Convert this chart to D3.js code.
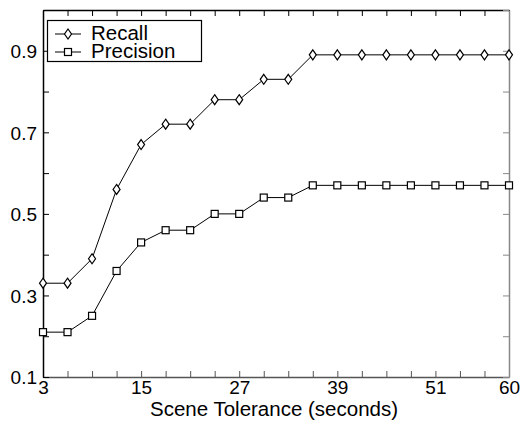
<!DOCTYPE html>
<html>
<head>
<meta charset="utf-8">
<script src="https://cdn.jsdelivr.net/npm/d3@7/dist/d3.min.js"></script>
<style>
  body { margin: 0; background: #fff; }
  svg, svg text { font-family: "Liberation Sans", Arial, sans-serif; }
</style>
</head>
<body>
<div id="vis"></div>
<script>
// Scene tolerance in seconds, one point every 3 s
var tolerance = [3, 6, 9, 12, 15, 18, 21, 24, 27, 30, 33, 36, 39, 42, 45, 48, 51, 54, 57, 60];
var recall = [0.33, 0.33, 0.39, 0.56, 0.67, 0.72, 0.72, 0.78, 0.78, 0.83, 0.83, 0.89, 0.89, 0.89, 0.89, 0.89, 0.89, 0.89, 0.89, 0.89];
var precision = [0.21, 0.21, 0.25, 0.36, 0.43, 0.46, 0.46, 0.50, 0.50, 0.54, 0.54, 0.57, 0.57, 0.57, 0.57, 0.57, 0.57, 0.57, 0.57, 0.57];
var xTickLabels = [3, 15, 27, 39, 51, 60];
var yTickLabels = [0.1, 0.3, 0.5, 0.7, 0.9];
var yMinorTicks = [0.1, 0.2, 0.3, 0.4, 0.5, 0.6, 0.7, 0.8, 0.9, 1.0];
var seriesNames = ['Recall', 'Precision'];

var width = 522, height = 424;
var margin = { left: 43, right: 13, top: 10, bottom: 47 };
var drawWidth = width - margin.left - margin.right;
var drawHeight = height - margin.top - margin.bottom;

var svg = d3.select('#vis').append('svg')
    .attr('width', width)
    .attr('height', height);

var g = svg.append('g')
    .attr('transform', 'translate(' + margin.left + ',' + margin.top + ')');

var xScale = d3.scaleLinear().domain([3, 60]).range([0, drawWidth]);
var yScale = d3.scaleLinear().domain([0.1, 1.0]).range([drawHeight, 0]);

// Frame axes, ticks pointing inward
var tickLen = 6;
var bottomAxis = g.append('g')
    .attr('transform', 'translate(0,' + drawHeight + ')')
    .call(d3.axisBottom(xScale).tickValues(tolerance).tickSize(-tickLen).tickSizeOuter(0)
        .tickFormat(function (d) { return xTickLabels.indexOf(d) >= 0 ? d : ''; }));
var topAxis = g.append('g')
    .call(d3.axisTop(xScale).tickValues(tolerance).tickSize(-tickLen).tickSizeOuter(0).tickFormat(''));
var leftAxis = g.append('g')
    .call(d3.axisLeft(yScale).tickValues(yMinorTicks).tickSize(-tickLen).tickSizeOuter(0)
        .tickFormat(function (d) {
            return yTickLabels.some(function (v) { return Math.abs(v - d) < 1e-9; }) ? d3.format('.1f')(d) : '';
        }));
var rightAxis = g.append('g')
    .attr('transform', 'translate(' + drawWidth + ',0)')
    .call(d3.axisRight(yScale).tickValues(yMinorTicks).tickSize(-tickLen).tickSizeOuter(0).tickFormat(''));

g.selectAll('.domain').attr('stroke-width', 1.5);
bottomAxis.selectAll('.domain, .tick line').attr('stroke', '#555');
rightAxis.selectAll('.domain, .tick line').attr('stroke', '#888');

[bottomAxis, leftAxis].forEach(function (ax) {
    ax.attr('font-family', '"Liberation Sans", Arial, sans-serif').attr('font-size', 19);
});

bottomAxis.selectAll('text')
    .attr('fill', '#000')
    .attr('y', 4)
    .attr('dy', '0.71em');
leftAxis.selectAll('text')
    .attr('fill', '#000')
    .attr('x', -6)
    .attr('dy', '0.36em');

// Axis title
svg.append('text')
    .attr('x', margin.left + drawWidth / 2 - 2)
    .attr('y', 416)
    .attr('text-anchor', 'middle')
    .attr('font-size', 20.5)
    .text('Scene Tolerance (seconds)');

var line = d3.line()
    .x(function (d, i) { return xScale(tolerance[i]); })
    .y(function (d) { return yScale(d); });

var diamond = function (sel, cx, cy) {
    sel.append('path')
        .attr('d', 'M' + cx + ',' + (cy - 5) + 'L' + (cx + 3.5) + ',' + cy + 'L' + cx + ',' + (cy + 5) + 'L' + (cx - 3.5) + ',' + cy + 'Z')
        .attr('fill', '#fff')
        .attr('stroke', '#000')
        .attr('stroke-width', 1.2);
};
var square = function (sel, cx, cy) {
    sel.append('rect')
        .attr('x', cx - 3.5).attr('y', cy - 3.5)
        .attr('width', 7).attr('height', 7)
        .attr('fill', '#fff')
        .attr('stroke', '#000')
        .attr('stroke-width', 1.2);
};

var series = [recall, precision];
var markers = [diamond, square];

series.forEach(function (values, s) {
    g.append('path')
        .datum(values)
        .attr('d', line)
        .attr('fill', 'none')
        .attr('stroke', '#000')
        .attr('stroke-width', 1);
    var mg = g.append('g');
    values.forEach(function (v, i) {
        markers[s](mg, xScale(tolerance[i]), yScale(v));
    });
});

// Legend
var legend = svg.append('g');
legend.append('rect')
    .attr('x', 47.5).attr('y', 20.5)
    .attr('width', 154).attr('height', 41)
    .attr('fill', '#fff')
    .attr('stroke', '#000')
    .attr('stroke-width', 1.2);
seriesNames.forEach(function (name, s) {
    var ly = 34 + s * 18;
    legend.append('line')
        .attr('x1', 55).attr('x2', 81)
        .attr('y1', ly).attr('y2', ly)
        .attr('stroke', '#000');
    markers[s](legend, 68, ly);
    legend.append('text')
        .attr('x', 91)
        .attr('y', ly + 6)
        .attr('font-size', 20.5)
        .text(name);
});
</script>
</body>
</html>
